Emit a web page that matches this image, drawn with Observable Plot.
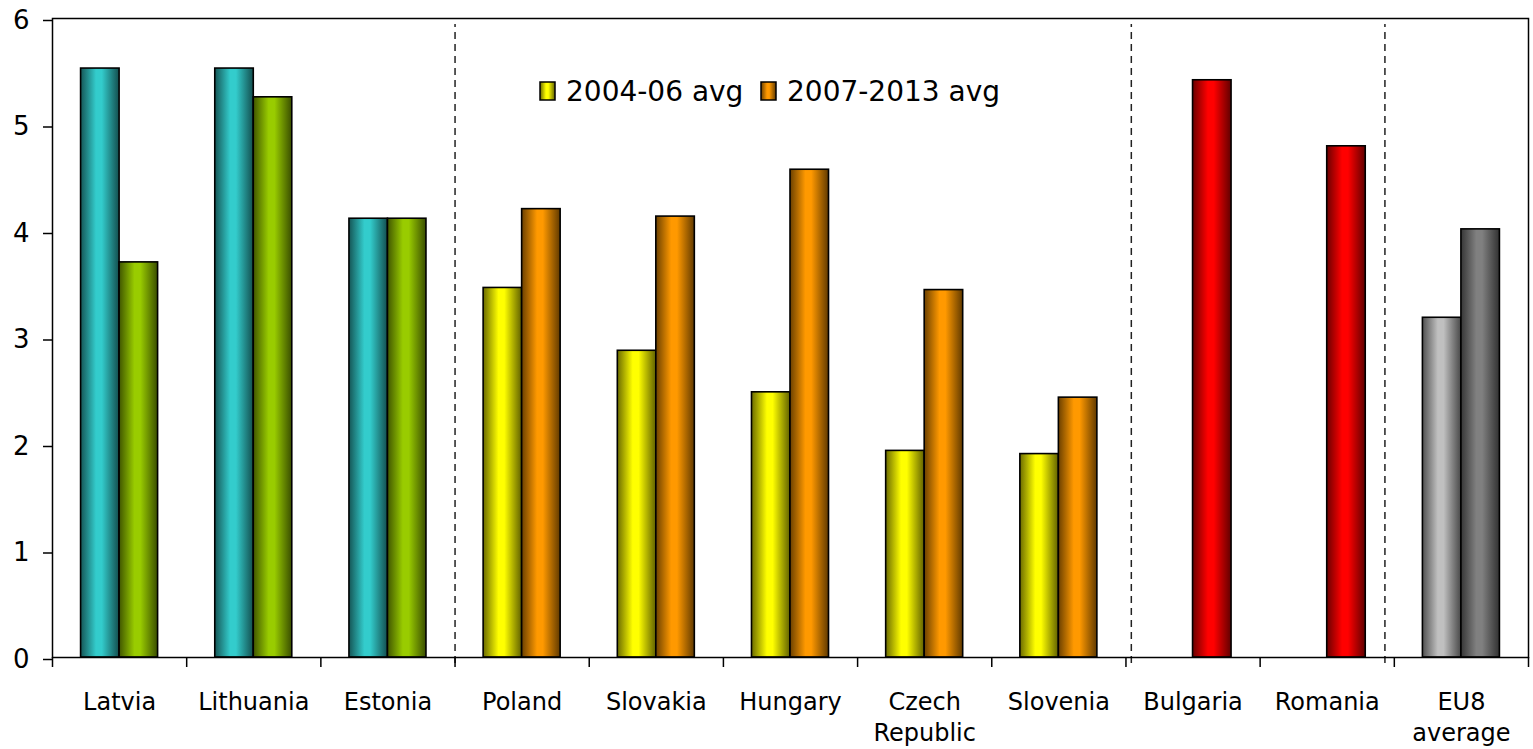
<!DOCTYPE html>
<html>
<head>
<meta charset="utf-8">
<script src="https://cdn.jsdelivr.net/npm/d3@7"></script>
<script src="https://cdn.jsdelivr.net/npm/@observablehq/plot@0.6"></script>
<style>
  html, body { margin: 0; padding: 0; background: #fff; }
  #chart { position: relative; width: 1533px; height: 749px; }
</style>
</head>
<body>
<div id="chart"></div>
<script>
// ---- data ----
const countries = ["Latvia", "Lithuania", "Estonia", "Poland", "Slovakia", "Hungary", "Czech\nRepublic", "Slovenia", "Bulgaria", "Romania", "EU8\naverage"];
const avg0406 = [5.53, 5.53, 4.12, 3.47, 2.88, 2.49, 1.94, 1.91, null, null, 3.19];
const avg0713 = [3.71, 5.26, 4.12, 4.21, 4.14, 4.58, 3.45, 2.44, 5.42, 4.80, 4.02];
const groups = ["baltic", "baltic", "baltic", "ce", "ce", "ce", "ce", "ce", "see", "see", "eu8"];
const seriesNames = ["2004-06 avg", "2007-2013 avg"];
const yTicks = [0, 1, 2, 3, 4, 5, 6];
const separators = [3, 8.04, 9.93];

// colours (centre colour of each cylinder-shaded bar)
const colorsFirst = {baltic: "#33CCCC", ce: "#FFFF00", see: "#FF0000", eu8: "#C0C0C0"};
const colorsSecond = {baltic: "#99CC00", ce: "#FF9900", see: "#FF0000", eu8: "#808080"};

const idx = d3.range(countries.length);
const barW = 0.287; // fraction of a category

const gid = c => "g" + c.replace("#", "");

const plot = Plot.plot({
  width: 1533,
  height: 749,
  marginLeft: 52,
  marginRight: 5,
  marginTop: 18,
  marginBottom: 92,
  style: {fontFamily: "DejaVu Sans", fontSize: "24px", color: "#000", background: "#fff", overflow: "visible"},
  x: {domain: [0, countries.length], axis: null},
  y: {domain: [0, 6], axis: null},
  color: {type: "identity"},
  marks: [
    Plot.rectY(idx.filter(i => avg0406[i] != null), {
      x1: i => i + 0.5 - barW, x2: i => i + 0.5, y1: 0, y2: i => avg0406[i],
      fill: i => `url(#${gid(colorsFirst[groups[i]])})`, stroke: "#000", strokeWidth: 1.6
    }),
    Plot.rectY(idx.filter(i => avg0713[i] != null), {
      x1: i => i + 0.5, x2: i => i + 0.5 + barW, y1: 0, y2: i => avg0713[i],
      fill: i => `url(#${gid(colorsSecond[groups[i]])})`, stroke: "#000", strokeWidth: 1.6
    }),
    Plot.ruleX(separators, {x: d => d, y1: 0, y2: 6, stroke: "#222", strokeWidth: 1.5, strokeDasharray: "7,5", insetTop: 6, insetBottom: -6}),
    Plot.frame({stroke: "#000", strokeWidth: 1.5}),
    Plot.axisY(yTicks, {tickSize: 9, tickPadding: 14, fontSize: 26, dy: 2, strokeWidth: 1.5, tickFormat: d => String(d)}),
    Plot.axisX(d3.range(countries.length + 1), {tickSize: 10, tickFormat: () => "", strokeWidth: 1.5}),
    Plot.text(idx, {x: i => i + 0.5, y: 0, text: i => countries[i], lineAnchor: "top", dy: 30, fontSize: 24, lineHeight: 1.3, fill: "#000"})
  ]
});

// gradient definitions for cylinder shading
function shade(c, k) { const col = d3.rgb(c); return d3.rgb(col.r * k, col.g * k, col.b * k).formatHex(); }
const svg = d3.select(plot.tagName.toLowerCase() === "svg" ? plot : plot.querySelector("svg"));
const defs = svg.insert("defs", ":first-child");
const allColors = Array.from(new Set([...Object.values(colorsFirst), ...Object.values(colorsSecond)]));
for (const c of allColors) {
  const g = defs.append("linearGradient").attr("id", gid(c)).attr("x1", "0%").attr("x2", "100%").attr("y1", "0%").attr("y2", "0%");
  g.append("stop").attr("offset", "0%").attr("stop-color", shade(c, 0.42));
  g.append("stop").attr("offset", "40%").attr("stop-color", c);
  g.append("stop").attr("offset", "55%").attr("stop-color", c);
  g.append("stop").attr("offset", "100%").attr("stop-color", shade(c, 0.38));
}

// legend inside the plot area
const legendItems = [
  {name: seriesNames[0], color: colorsFirst.ce, x: 540},
  {name: seriesNames[1], color: colorsSecond.ce, x: 761}
];
const lg = svg.append("g").attr("font-family", "DejaVu Sans").attr("font-size", 28).attr("text-anchor", "start");
for (const it of legendItems) {
  lg.append("rect").attr("x", it.x).attr("y", 82).attr("width", 15).attr("height", 18)
    .attr("fill", `url(#${gid(it.color)})`).attr("stroke", "#000").attr("stroke-width", 1.5);
  lg.append("text").attr("x", it.x + 26).attr("y", 101).attr("fill", "#000").attr("text-anchor", "start").text(it.name);
}

document.getElementById("chart").appendChild(plot);
</script>
</body>
</html>
